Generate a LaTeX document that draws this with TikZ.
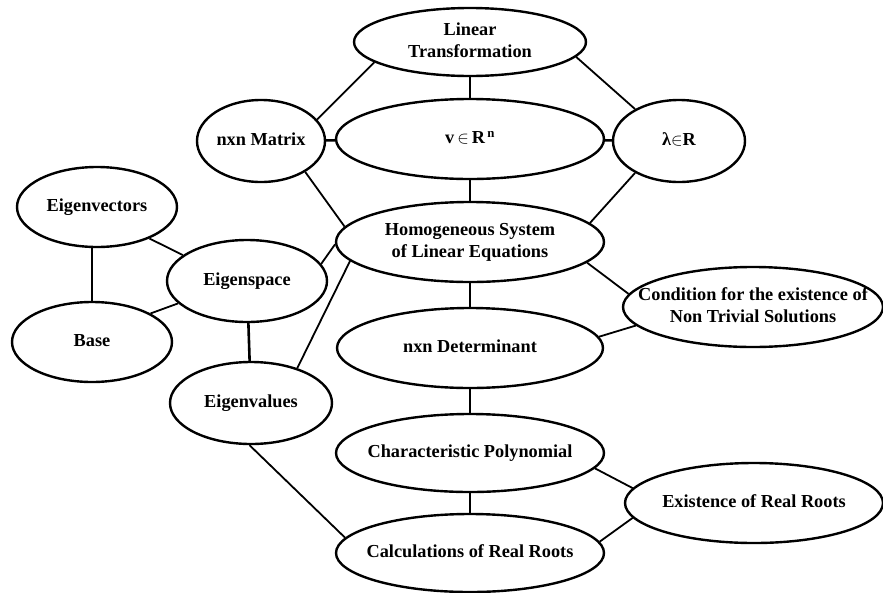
\documentclass[tikz,border=0pt]{standalone}
\usepackage{fontspec}
\setmainfont{Liberation Serif}
\usetikzlibrary{shapes.geometric}
\newcommand\tb[1]{\makebox[0pt]{\begin{tabular}{@{}c@{}}#1\end{tabular}}}
\newcommand\nodefont{\fontsize{18.3}{22}\selectfont\bfseries}
\begin{document}
\begin{tikzpicture}[x=1pt,y=-1pt,
  ell/.style n args={2}{ellipse, draw, line width=2.4pt, inner sep=0pt,
    minimum width=#1pt, minimum height=#2pt, font=\nodefont},
  con/.style={line width=1.8pt},
  vcon/.style={line width=2.6pt}]
\useasboundingbox[fill=white] (0,0) rectangle (883,592);
% nodes
\node[ell={232}{68}]  (lt)     at (470,42)  {\tb{Linear\\Transformation}};
\node[ell={268}{80}]  (v)      at (470,139) {\tb{v\,$\in$\,R\textsuperscript{\,n}}};
\node[ell={132}{82}]  (lam)    at (679,141) {\tb{λ$\in$R}};
\node[ell={128}{82}]  (mat)    at (261,141) {\tb{nxn Matrix}};
\node[ell={268}{80}]  (hom)    at (470,242) {\tb{Homogeneous System\\of Linear Equations}};
\node[ell={160}{80}]  (evec)   at (97,207)  {\tb{Eigenvectors}};
\node[ell={160}{82}]  (espace) at (247,281) {\tb{Eigenspace}};
\node[ell={160}{80}]  (base)   at (92,342)  {\tb{Base}};
\node[ell={162}{82}]  (evals)  at (251,403) {\tb{Eigenvalues}};
\node[ell={260}{80}]  (cond)   at (753,307) {\tb{Condition for the existence of\\Non Trivial Solutions}};
\node[ell={266}{80}]  (det)    at (470,348) {\tb{nxn Determinant}};
\node[ell={268}{78}]  (cp)     at (470,453) {\tb{Characteristic Polynomial}};
\node[ell={268}{78}]  (calc)   at (470,553) {\tb{Calculations of Real Roots}};
\node[ell={258}{80}]  (exist)  at (754,503) {\tb{Existence of Real Roots}};
% connectors
\draw[con]  (lt.192) -- (mat.21);
\draw[vcon] (lt) -- (v);
\draw[con]  (lt.-8) -- (lam.144);
\draw[vcon] (mat) -- (v);
\draw[vcon] (v) -- (lam);
\draw[vcon] (v) -- (hom);
\draw[con]  (mat.-35) -- (hom.173);
\draw[con]  (lam.216) -- (hom.9);
\draw[con]  (evec.-31) -- (espace.158);
\draw[vcon] (base.north |- evec.south) -- (base.north);
\draw[con]  (base.26) -- (espace.198);
\draw[con]  (espace.13) -- (hom.181);
\draw[vcon] (espace) -- (evals);
\draw[con]  (evals.37) -- (hom.189);
\draw[vcon] (hom) -- (det);
\draw[con]  (hom.-10) -- (cond.174);
\draw[con]  (det.5) -- (cond.189);
\draw[vcon] (det) -- (cp);
\draw[vcon] (cp) -- (calc);
\draw[con]  (cp.-7) -- (exist.173);
\draw[con]  (calc.5) -- (exist.187);
\draw[con]  (evals.268) -- (calc.173);
\end{tikzpicture}
\end{document}
